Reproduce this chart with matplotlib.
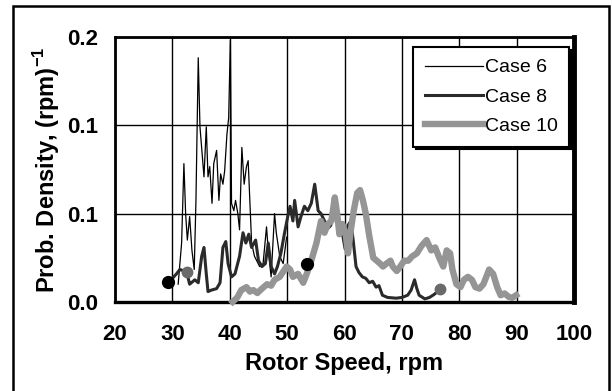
import matplotlib
matplotlib.use('Agg')
import matplotlib.pyplot as plt
from matplotlib.patches import Rectangle
from matplotlib.ticker import FormatStrFormatter

plt.rcParams['font.family'] = ['Liberation Sans', 'DejaVu Sans']
plt.rcParams['mathtext.fontset'] = 'custom'
plt.rcParams['mathtext.rm'] = 'Liberation Sans'
plt.rcParams['mathtext.bf'] = 'Liberation Sans:bold'

# Case 6 (thin line)
c6_rpm = [31.0, 31.6, 32.0, 32.3, 32.6, 33.0, 33.4, 33.8, 34.1, 34.5,
          34.8, 35.5, 35.9, 36.2, 36.5, 36.9, 37.2, 37.7, 38.1, 38.4,
          38.8, 39.1, 39.5, 39.8, 40.1, 40.3, 40.7, 41.0, 41.4, 41.7,
          42.1, 42.5, 42.9, 43.2, 43.8, 44.3, 45.2, 45.8, 46.4, 46.7,
          47.2, 47.8, 48.1, 48.7, 49.3, 49.9]
c6_val = [0.012, 0.040, 0.094, 0.060, 0.042, 0.058, 0.035, 0.022, 0.069, 0.166,
          0.119, 0.085, 0.119, 0.085, 0.092, 0.067, 0.094, 0.103, 0.069, 0.087,
          0.080, 0.089, 0.114, 0.125, 0.178, 0.067, 0.062, 0.069, 0.060, 0.049,
          0.105, 0.080, 0.092, 0.096, 0.040, 0.031, 0.024, 0.026, 0.051, 0.035,
          0.017, 0.060, 0.047, 0.031, 0.026, 0.044]

# Case 8 (heavier dark line)
c8_rpm = [29.3, 30.0, 30.7, 31.3, 32.0, 32.5, 33.0, 33.3, 33.9, 34.5,
          35.1, 35.5, 35.9, 36.2, 36.8, 37.7, 38.3, 38.8, 39.3, 39.7,
          40.3, 40.9, 41.7, 42.3, 42.8, 43.3, 43.8, 44.5, 45.0, 45.6,
          46.2, 46.7, 47.2, 47.8, 48.3, 48.9, 49.5, 50.1, 50.5, 51.0,
          51.3, 51.9, 52.4, 53.0, 53.6, 54.2, 54.8, 55.4, 55.9, 56.5,
          57.1, 57.6, 58.3, 59.0, 59.6, 60.1, 60.6, 61.1, 61.5, 62.0,
          62.5, 63.1, 63.7, 64.3, 64.9, 65.5, 66.0, 66.6, 67.5, 69.0,
          70.0, 71.0, 71.6, 72.2, 72.6, 73.0, 74.0, 74.8, 75.6, 76.5]
c8_val = [0.013, 0.016, 0.019, 0.022, 0.021, 0.020, 0.012, 0.013, 0.015, 0.013,
          0.031, 0.037, 0.019, 0.007, 0.008, 0.009, 0.013, 0.037, 0.041, 0.026,
          0.017, 0.019, 0.031, 0.047, 0.040, 0.046, 0.037, 0.042, 0.028, 0.024,
          0.026, 0.040, 0.024, 0.019, 0.024, 0.033, 0.046, 0.058, 0.065, 0.055,
          0.069, 0.051, 0.058, 0.065, 0.062, 0.067, 0.080, 0.062, 0.060, 0.055,
          0.050, 0.052, 0.068, 0.056, 0.047, 0.036, 0.052, 0.055, 0.042, 0.024,
          0.020, 0.017, 0.016, 0.013, 0.014, 0.010, 0.011, 0.0045, 0.003, 0.0025,
          0.003, 0.0045, 0.008, 0.015, 0.009, 0.0045, 0.002, 0.003, 0.005, 0.008]

# Case 10 (thick grey line)
c10_rpm = [40.5, 41.3, 42.0, 42.9, 43.5, 44.1, 44.8, 45.6, 46.5, 47.2,
           47.8, 48.7, 49.9, 50.5, 51.0, 51.9, 52.8, 53.4, 54.2, 55.1,
           55.9, 56.5, 57.1, 57.7, 58.3, 58.7, 59.1, 59.6, 60.2, 60.6,
           61.1, 61.6, 62.2, 62.7, 63.2, 63.7, 64.3, 65.0, 65.6, 66.2,
           66.7, 67.3, 68.0, 68.4, 69.1, 69.7, 70.4, 71.1, 71.8, 72.6,
           73.4, 74.3, 75.1, 75.8, 76.5, 77.2, 77.8, 78.4, 78.8, 79.5,
           80.2, 80.8, 81.5, 82.2, 82.8, 83.5, 84.2, 85.2, 85.9, 86.6,
           87.2, 87.9, 88.6, 89.2, 89.9]
c10_val = [0.0, 0.003, 0.008, 0.010, 0.007, 0.008, 0.006, 0.009, 0.012, 0.011,
           0.015, 0.017, 0.024, 0.022, 0.017, 0.019, 0.013, 0.019, 0.028, 0.040,
           0.055, 0.047, 0.053, 0.055, 0.071, 0.060, 0.046, 0.053, 0.046, 0.033,
           0.049, 0.062, 0.074, 0.076, 0.069, 0.060, 0.045, 0.030, 0.028, 0.026,
           0.024, 0.026, 0.028, 0.024, 0.021, 0.024, 0.028, 0.028, 0.031, 0.033,
           0.038, 0.042, 0.035, 0.037, 0.030, 0.024, 0.035, 0.033, 0.022, 0.012,
           0.010, 0.015, 0.017, 0.015, 0.010, 0.009, 0.012, 0.022, 0.019, 0.010,
           0.0045, 0.0057, 0.0034, 0.0027, 0.0045]

# round markers on the curves
dot_black_rpm = [29.3, 53.4]
dot_black_val = [0.0136, 0.026]
dot_grey_rpm = [32.5, 76.7]
dot_grey_val = [0.020, 0.0085]

x_ticks = [20, 30, 40, 50, 60, 70, 80, 90, 100]
y_ticks = [0.0, 0.06, 0.12, 0.18]


def main():
    fig = plt.figure(figsize=(6.12, 3.91), dpi=100)
    ax = fig.add_axes([0.188, 0.228, 0.750, 0.677])

    ax.plot(c6_rpm, c6_val, color='black', lw=0.9, label='Case 6', zorder=3)
    ax.plot(c8_rpm, c8_val, color='#2a2a2a', lw=2.2, label='Case 8', zorder=4)
    ax.plot(c10_rpm, c10_val, color='#959595', lw=4.6, label='Case 10',
            zorder=5, clip_on=False)
    ax.plot(dot_black_rpm, dot_black_val, 'o', color='black', ms=8.5, zorder=6)
    ax.plot(dot_grey_rpm, dot_grey_val, 'o', color='#6a6a6a', ms=7.5, zorder=6)

    ax.set_xlim(20, 100)
    ax.set_ylim(0, 0.18)
    ax.set_xticks(x_ticks)
    ax.set_yticks(y_ticks)
    ax.yaxis.set_major_formatter(FormatStrFormatter('%.1f'))
    ax.tick_params(length=0, labelsize=16)
    ax.tick_params(axis='x', pad=16)
    ax.tick_params(axis='y', pad=12)
    for lab in ax.get_xticklabels() + ax.get_yticklabels():
        lab.set_fontweight('bold')

    ax.grid(True, color='black', lw=1.0)
    ax.set_axisbelow(True)
    ax.spines['left'].set_linewidth(2.0)
    ax.spines['bottom'].set_linewidth(2.4)
    ax.spines['top'].set_linewidth(2.0)
    ax.spines['right'].set_linewidth(3.5)

    ax.set_xlabel('Rotor Speed, rpm', fontsize=17, fontweight='bold')
    ax.set_ylabel(r'Prob. Density, (rpm)$^{\mathbf{-1}}$', fontsize=17,
                  fontweight='bold')
    ax.xaxis.set_label_coords(0.5, -0.19)
    ax.yaxis.set_label_coords(-0.115, 0.5)

    leg = ax.legend(loc='upper right', bbox_to_anchor=(0.99, 0.962),
                    borderaxespad=0, fontsize=14, handlelength=3.0,
                    handletextpad=0.1, labelspacing=0.6, borderpad=0.6,
                    fancybox=False, framealpha=1, edgecolor='black',
                    shadow={'facecolor': 'black', 'edgecolor': 'black',
                            'alpha': 1})
    leg.get_frame().set_linewidth(1.5)

    # outer border round the whole chart
    fig.add_artist(Rectangle((12.5 / 612, -0.05), (609 - 12.5) / 612,
                             (391 - 6) / 391 + 0.05,
                             transform=fig.transFigure, fill=False,
                             ec='black', lw=1.8))

    fig.savefig('out.png', dpi=100)


if __name__ == '__main__':
    main()
